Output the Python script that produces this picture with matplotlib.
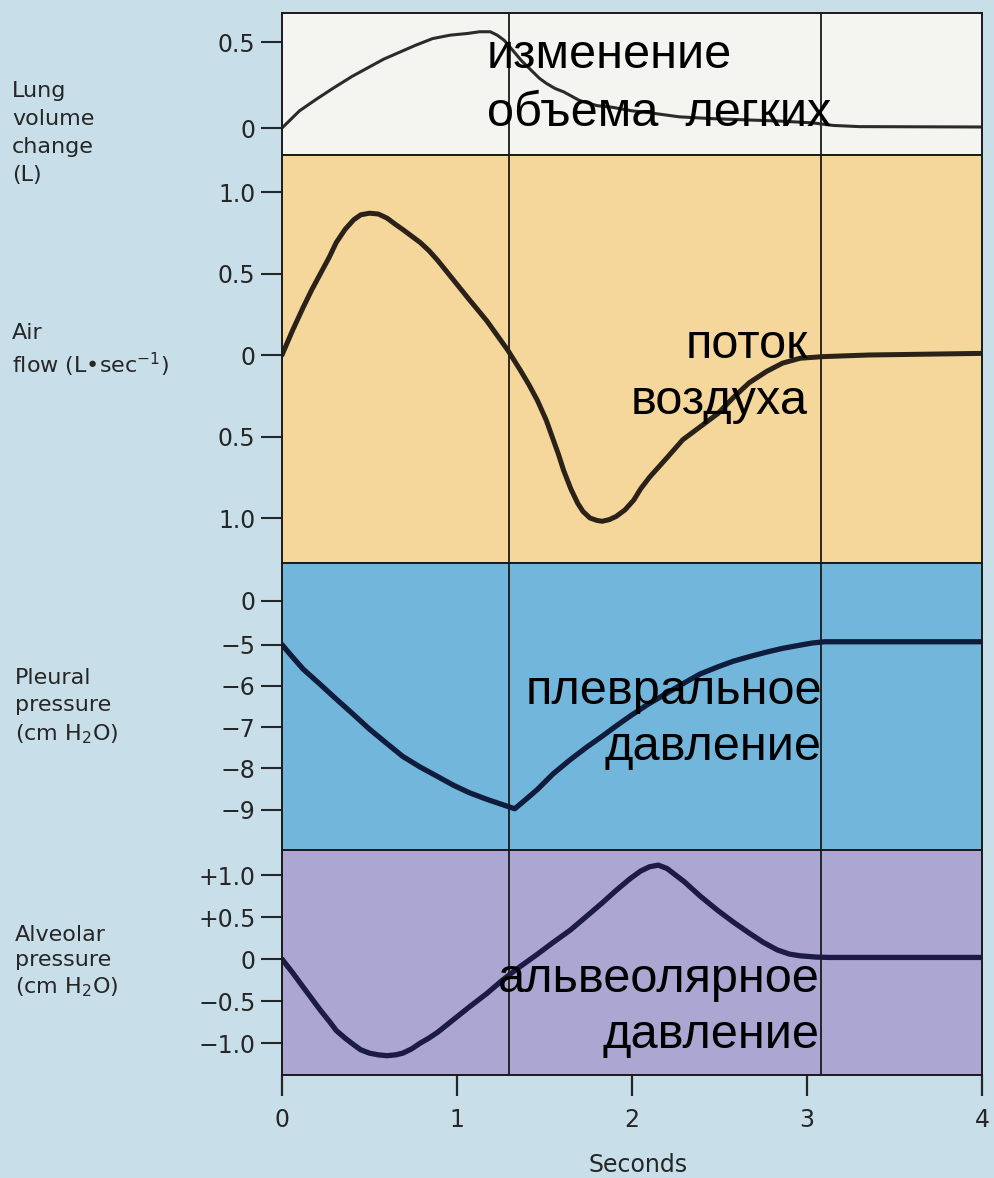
import matplotlib
matplotlib.use("Agg")
import matplotlib.pyplot as plt

# lung volume change (L)
t_volume = [0, 0.05, 0.10, 0.20, 0.29, 0.40, 0.49, 0.58, 0.67, 0.76, 0.86, 0.96, 1.06,
            1.13, 1.19, 1.23, 1.27, 1.32, 1.37, 1.42, 1.47, 1.51, 1.56, 1.61, 1.70, 1.80,
            1.89, 2.00, 2.09, 2.27, 2.45, 2.66, 2.85, 3.03, 3.15, 3.30, 4.0]
volume = [0, 0.05, 0.10, 0.17, 0.23, 0.30, 0.35, 0.40, 0.44, 0.48, 0.52, 0.54, 0.55,
          0.56, 0.56, 0.54, 0.51, 0.45, 0.39, 0.34, 0.29, 0.26, 0.23, 0.21, 0.16, 0.13,
          0.12, 0.10, 0.09, 0.065, 0.055, 0.047, 0.04, 0.03, 0.015, 0.008, 0.006]

# air flow (L/s)
t_flow = [0, 0.06, 0.12, 0.17, 0.22, 0.27, 0.31, 0.36, 0.41, 0.45, 0.50, 0.55, 0.60,
          0.65, 0.69, 0.74, 0.79, 0.84, 0.89, 0.98, 1.07, 1.17, 1.29, 1.36, 1.41, 1.46,
          1.51, 1.55, 1.58, 1.61, 1.65, 1.69, 1.72, 1.76, 1.80, 1.83, 1.87, 1.91, 1.96,
          2.01, 2.05, 2.10, 2.15, 2.20, 2.29, 2.39, 2.49, 2.58, 2.67, 2.77, 2.86, 2.96,
          3.09, 3.35, 4.0]
flow = [0, 0.15, 0.29, 0.40, 0.50, 0.60, 0.69, 0.77, 0.83, 0.86, 0.87, 0.865, 0.84,
        0.80, 0.77, 0.73, 0.69, 0.64, 0.58, 0.46, 0.34, 0.21, 0.03, -0.09, -0.18, -0.28,
        -0.40, -0.52, -0.61, -0.71, -0.82, -0.91, -0.96, -1.00, -1.015, -1.02, -1.01,
        -0.99, -0.95, -0.89, -0.82, -0.75, -0.69, -0.63, -0.52, -0.44, -0.36, -0.26,
        -0.17, -0.10, -0.05, -0.02, -0.01, 0.0, 0.01]

# pleural pressure (cm H2O)
t_pleural = [0, 0.06, 0.12, 0.22, 0.31, 0.41, 0.50, 0.60, 0.69, 0.79, 0.89, 0.98, 1.07,
             1.17, 1.26, 1.33, 1.40, 1.46, 1.55, 1.65, 1.74, 1.83, 1.91, 1.99, 2.09, 2.19,
             2.29, 2.39, 2.49, 2.58, 2.68, 2.77, 2.86, 2.95, 3.03, 3.10, 4.0]
pleural = [-5.0, -5.30, -5.59, -5.97, -6.32, -6.70, -7.05, -7.40, -7.71, -7.97, -8.20,
           -8.41, -8.59, -8.75, -8.88, -8.98, -8.73, -8.51, -8.13, -7.78, -7.49, -7.22,
           -6.97, -6.73, -6.45, -6.20, -5.95, -5.71, -5.54, -5.40, -5.28, -5.18, -5.09,
           -5.02, -4.96, -4.93, -4.93]

# alveolar pressure (cm H2O)
t_alveolar = [0, 0.06, 0.12, 0.17, 0.22, 0.27, 0.31, 0.36, 0.41, 0.45, 0.50, 0.55, 0.60,
              0.65, 0.69, 0.74, 0.79, 0.84, 0.89, 0.98, 1.07, 1.17, 1.26, 1.34, 1.46,
              1.55, 1.65, 1.74, 1.83, 1.91, 1.99, 2.05, 2.10, 2.15, 2.20, 2.25, 2.30,
              2.39, 2.49, 2.58, 2.67, 2.75, 2.83, 2.90, 2.96, 3.05, 3.13, 4.0]
alveolar = [0, -0.16, -0.33, -0.47, -0.61, -0.74, -0.85, -0.94, -1.02, -1.08, -1.12,
            -1.14, -1.15, -1.14, -1.12, -1.07, -1.00, -0.94, -0.87, -0.72, -0.57, -0.41,
            -0.25, -0.12, 0.06, 0.20, 0.35, 0.51, 0.67, 0.82, 0.96, 1.05, 1.10, 1.12,
            1.08, 1.00, 0.92, 0.75, 0.58, 0.44, 0.31, 0.20, 0.11, 0.06, 0.04, 0.025,
            0.02, 0.02]

phase_marks = [1.3, 3.08]
seconds = [0, 1, 2, 3, 4]

W, H = 995, 1178
X0, X1 = 282, 982

fig = plt.figure(figsize=(W / 100, H / 100), dpi=100)
fig.patch.set_facecolor('#c8dee9')

tick_font = dict(family='DejaVu Sans', size=17, color='#262626')


def panel(top, bottom, ylim, color):
    ax = fig.add_axes([X0 / W, 1 - bottom / H, (X1 - X0) / W, (bottom - top) / H])
    ax.set_facecolor(color)
    ax.set_xlim(0, 4)
    ax.set_ylim(*ylim)
    for s in ax.spines.values():
        s.set_color('#1a1a1a')
        s.set_linewidth(1.4)
    ax.tick_params(axis='y', direction='out', length=15, width=1.5, pad=4,
                   color='#262626')
    ax.tick_params(axis='x', bottom=False, labelbottom=False)
    for t in phase_marks:
        ax.axvline(t, color='#1a1a1a', lw=1.3)
    return ax


ax1 = panel(13, 155, (-0.157, 0.669), '#f4f4f1')
ax1.set_yticks([0.5, 0], ['0.5', '0'], **tick_font)
ax1.plot(t_volume, volume, color='#2b2b2b', lw=2.2, solid_capstyle='round')

ax2 = panel(155, 563, (-1.276, 1.227), '#f5d79b')
ax2.set_yticks([1.0, 0.5, 0, -0.5, -1.0], ['1.0', '0.5', '0', '0.5', '1.0'], **tick_font)
ax2.plot(t_flow, flow, color='#2a2218', lw=3.6, solid_capstyle='round',
         solid_joinstyle='round')

# pleural axis is broken between 0 and -5; the zero label sits above the break
ax3 = panel(563, 850, (-9.98, -3.02), '#73b6dc')
ax3.set_yticks([-3.93, -5, -6, -7, -8, -9],
               ['0', '\u22125', '\u22126', '\u22127', '\u22128', '\u22129'], **tick_font)
ax3.plot(t_pleural, pleural, color='#101c3c', lw=3.8, solid_capstyle='round',
         solid_joinstyle='round')

ax4 = panel(850, 1075, (-1.38, 1.30), '#aba6d2')
ax4.set_yticks([1.0, 0.5, 0, -0.5, -1.0],
               ['+1.0', '+0.5', '0', '\u22120.5', '\u22121.0'], **tick_font)
ax4.plot(t_alveolar, alveolar, color='#1b1b45', lw=3.8, solid_capstyle='round',
         solid_joinstyle='round')
ax4.tick_params(axis='x', bottom=True, labelbottom=True, direction='out',
                length=15, width=1.6, pad=9, color='#262626')
ax4.set_xticks(seconds, [str(s) for s in seconds], **tick_font)


def ftext(x, y, s, **kw):
    fig.text(x / W, 1 - y / H, s, **kw)


side = dict(family='DejaVu Sans', size=16, color='#262626', ha='left', va='center')
ftext(12, 133, 'Lung\nvolume\nchange\n(L)', linespacing=1.5, **side)
ftext(12, 351, 'Air\nflow (L\u2022sec$^{-1}$)', linespacing=1.35, **side)
ftext(15, 707, 'Pleural\npressure\n(cm H$_2$O)', linespacing=1.4, **side)
ftext(15, 962, 'Alveolar\npressure\n(cm H$_2$O)', linespacing=1.3, **side)
ftext(638, 1165, 'Seconds', family='DejaVu Sans', size=17, color='#262626',
      ha='center', va='center')

# Russian captions over the panels
cap = dict(family='Liberation Sans', size=35, color='black', va='center')
ftext(487, 55, 'изменение', ha='left', **cap)
ftext(487, 113, 'объема  легких', ha='left', **cap)
ftext(808, 345, 'поток', ha='right', **cap)
ftext(808, 402, 'воздуха', ha='right', **cap)
ftext(822, 692, 'плевральное', ha='right', **cap)
ftext(822, 748, 'давление', ha='right', **cap)
ftext(820, 980, 'альвеолярное', ha='right', **cap)
ftext(820, 1035, 'давление', ha='right', **cap)

fig.savefig('out.png', dpi=100, facecolor=fig.get_facecolor())
